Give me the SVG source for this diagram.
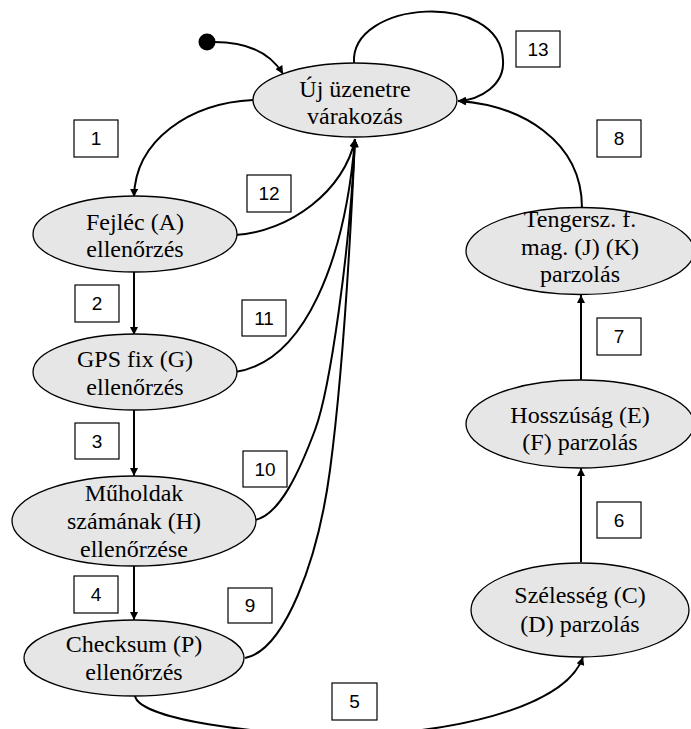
<svg xmlns="http://www.w3.org/2000/svg" width="691" height="729" viewBox="0 0 691 729">
<style>
.node ellipse{fill:#e7e6e6;stroke:#000;stroke-width:1.3}
.node text{font-size:24px;fill:#000;text-anchor:middle}
.lbl rect{fill:#fff;stroke:#000;stroke-width:1.2}
.lbl text{font-size:19px;fill:#000;text-anchor:middle}
.edge{fill:none;stroke:#000;stroke-width:2;marker-end:url(#arr)}
</style>
<defs>
<marker id="arr" viewBox="0 0 10 10" refX="10" refY="5" markerWidth="9" markerHeight="8" markerUnits="userSpaceOnUse" orient="auto">
<path d="M0,0 L10,5 L0,10 z" fill="#000"/>
</marker>
</defs>
<rect width="691" height="729" fill="#fff"/>
<g id="connectors">
<circle id="start" cx="207" cy="42" r="8.5" fill="#000"/>
<path class="edge" d="M214 42 C245 42 270 52 283 74"/>
<path class="edge" d="M253 100 C190 103 135 140 134 197"/>
<path class="edge" d="M134 272 L134 335"/>
<path class="edge" d="M134 410 L134 476"/>
<path class="edge" d="M134 566 L134 620"/>
<path class="edge" d="M135 696 C140 720 260 735 345 735 C440 735 565 710 583 657"/>
<path class="edge" d="M581 562 L581 468"/>
<path class="edge" d="M581 380 L581 295"/>
<path class="edge" d="M582 208 C582 140 520 105 458 101"/>
<path class="edge" d="M245 658 C285 650 318 560 330 470 C342 380 350 250 355 139"/>
<path class="edge" d="M255 520 C280 515 300 470 315 430 C330 390 350 250 355 139"/>
<path class="edge" d="M235 372 C305 362 345 260 355 139"/>
<path class="edge" d="M235 235 C290 232 345 190 355 139"/>
<path class="edge" d="M354 63 C350 0 500 -10 503 60 C505 85 480 100 458 101"/>
</g>
<g font-family="Liberation Serif, DejaVu Serif, serif">
<g id="n_wait" class="node"><ellipse cx="355" cy="100" rx="102" ry="37"/><text x="355" y="97">Új üzenetre</text><text x="355" y="124">várakozás</text></g>
<g id="n_header" class="node"><ellipse cx="135" cy="234" rx="102" ry="38"/><text x="135" y="230">Fejléc (A)</text><text x="135" y="257">ellenőrzés</text></g>
<g id="n_gps" class="node"><ellipse cx="135" cy="372" rx="102" ry="38"/><text x="135" y="367">GPS fix (G)</text><text x="135" y="395">ellenőrzés</text></g>
<g id="n_sat" class="node"><ellipse cx="134" cy="521" rx="122" ry="45"/><text x="134" y="501">Műholdak</text><text x="134" y="529">számának (H)</text><text x="134" y="557">ellenőrzése</text></g>
<g id="n_checksum" class="node"><ellipse cx="134" cy="658" rx="110" ry="38"/><text x="134" y="652">Checksum (P)</text><text x="134" y="680">ellenőrzés</text></g>
<g id="n_lat" class="node"><ellipse cx="580" cy="610" rx="109" ry="47"/><text x="580" y="603">Szélesség (C)</text><text x="580" y="632">(D) parzolás</text></g>
<g id="n_lon" class="node"><ellipse cx="580" cy="424" rx="114" ry="44"/><text x="580" y="423">Hosszúság (E)</text><text x="580" y="450">(F) parzolás</text></g>
<g id="n_alt" class="node"><ellipse cx="580" cy="251" rx="114" ry="43.5"/><text x="580" y="227">Tengersz. f.</text><text x="580" y="255">mag. (J) (K)</text><text x="580" y="282">parzolás</text></g>
</g>
<g id="labels" font-family="Liberation Sans, Arial, sans-serif">
<g class="lbl"><rect x="74" y="120" width="44" height="37"/><text x="96" y="145">1</text></g>
<g class="lbl"><rect x="75" y="285" width="44" height="37"/><text x="97" y="310">2</text></g>
<g class="lbl"><rect x="75" y="423" width="44" height="36"/><text x="97" y="448">3</text></g>
<g class="lbl"><rect x="74" y="576" width="44" height="37"/><text x="96" y="601">4</text></g>
<g class="lbl"><rect x="332" y="683" width="45" height="37"/><text x="354.5" y="708">5</text></g>
<g class="lbl"><rect x="597" y="502" width="44" height="36"/><text x="619" y="527">6</text></g>
<g class="lbl"><rect x="597" y="318" width="44" height="37"/><text x="619" y="343">7</text></g>
<g class="lbl"><rect x="597" y="120" width="44" height="37"/><text x="619" y="145">8</text></g>
<g class="lbl"><rect x="228" y="588" width="44" height="35"/><text x="250" y="612">9</text></g>
<g class="lbl"><rect x="243" y="451" width="44" height="36"/><text x="265" y="476">10</text></g>
<g class="lbl"><rect x="242" y="300" width="44" height="36"/><text x="264" y="325">11</text></g>
<g class="lbl"><rect x="247" y="175" width="44" height="37"/><text x="269" y="200">12</text></g>
<g class="lbl"><rect x="516" y="31" width="44" height="36"/><text x="538" y="56">13</text></g>
</g>
</svg>
